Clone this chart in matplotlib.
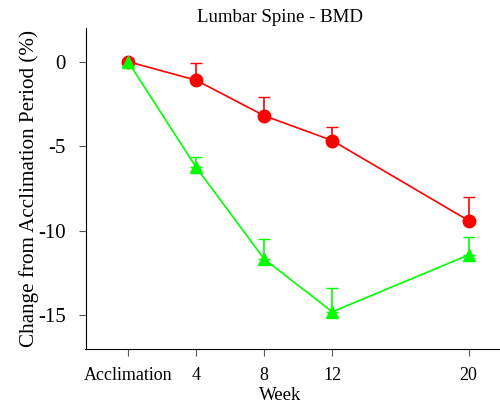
import numpy as np
import matplotlib
matplotlib.use('Agg')
import matplotlib.pyplot as plt

plt.rcParams['font.family'] = ['Liberation Serif', 'DejaVu Serif']

# weeks (0 = acclimation)
weeks = [0, 4, 8, 12, 20]
tick_labels = ['Acclimation', '4', '8', '12', '20']

# % change, upper error bars
red_vals = [0, -1.1, -3.2, -4.67, -9.4]
red_err = [0, 1.0, 1.08, 0.82, 1.4]
green_vals = [0, -6.25, -11.68, -14.8, -11.44]
green_err = [0, 0.63, 1.18, 1.4, 1.07]

fig = plt.figure(figsize=(5, 4.03), dpi=100)
ax = fig.add_axes([0.171, 0.134, 0.829, 0.797])

ax.errorbar(weeks, red_vals, yerr=[np.zeros(len(red_err)), red_err], color='#ff0000',
            marker='o', markersize=9, linewidth=1.2, capsize=4, elinewidth=1.2)
ax.errorbar(weeks, green_vals, yerr=[np.zeros(len(green_err)), green_err], color='#00ff00',
            marker='^', markersize=8.5, linewidth=1.2, capsize=4, elinewidth=1.2)

ax.set_xlim(-2.5, 21.85)
ax.set_ylim(-17, 2)
ax.set_xticks(weeks)
ax.set_xticklabels(tick_labels, fontsize=13)
ax.set_yticks([0, -5, -10, -15])
ax.set_yticklabels(['0', '-5', '-10', '-15'], fontsize=15)
ax.tick_params(direction='out', length=5, color='#555555')
ax.tick_params(axis='y', pad=9)
ax.tick_params(axis='x', pad=8)

for s in ['top', 'right']:
    ax.spines[s].set_visible(False)

ax.set_title('Lumbar Spine - BMD', fontsize=13.6, pad=4, x=0.469)
ax.set_xlabel('Week', fontsize=13.5, labelpad=2, x=0.469)
ax.set_ylabel('Change from Acclimation Period (%)', fontsize=15.2, labelpad=-0.5)

fig.savefig('out.png', dpi=100)
